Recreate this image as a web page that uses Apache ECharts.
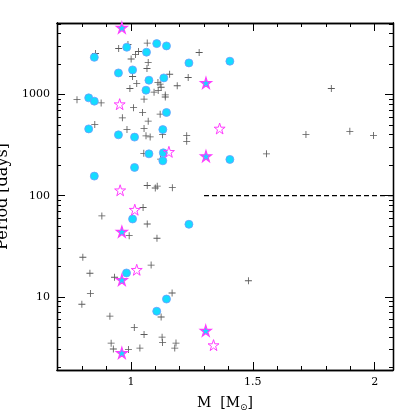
<!DOCTYPE html>
<html>
<head>
<meta charset="utf-8">
<script src="https://cdn.jsdelivr.net/npm/echarts@6/dist/echarts.min.js"></script>
<style>html,body{margin:0;padding:0;background:#fff}#c{width:415px;height:415px}</style>
</head>
<body>
<div id="c"></div>
<script>
// Mass [Msun] and Period [days]
const plusM = [0.988,0.950,1.067,1.031,1.019,0.855,1.001,1.071,1.066,1.007,1.024,1.159,1.111,1.120,1.124,1.190,0.996,1.095,1.112,1.141,1.141,0.779,0.878,1.054,1.011,1.048,1.120,0.965,1.071,0.852,1.054,0.984,1.062,1.079,1.130,1.229,1.229,1.280,1.235,1.053,1.122,1.067,1.108,1.100,1.170,1.050,0.881,1.067,0.993,1.107,0.803,0.832,1.083,0.933,0.834,1.169,0.799,0.914,1.124,1.014,1.054,1.128,1.130,0.919,1.185,0.928,0.990,1.037,1.180,1.822,1.718,1.898,1.995,1.556,1.482];
const plusP = [3120,2851,3221,2661,2488,2541,2245,2075,1807,1506,1287,1586,1316,1264,1180,1221,1146,1054,1098,991,945,889,826,899,741,665,639,588,545,506,462,450,390,381,401,392,344,2600,1472,262,230,126,124,119,120,76.4,63,52.5,40.2,37.9,24.6,17.1,20.6,15.6,10.8,10.9,8.45,6.44,6.31,4.96,4.24,3.99,3.53,3.48,3.49,3.05,3.01,3.11,3.11,1146,403,432,394,259,14.4];

const circleM = [0.850,0.983,1.064,1.106,1.146,0.949,1.007,1.074,1.135,1.062,0.827,0.850,1.146,0.827,1.131,1.238,1.406,0.949,1.015,1.074,1.133,1.131,1.406,1.015,0.850,1.007,1.238,0.982,1.146,1.106];
const circleP = [2330,2930,2620,3185,3020,1633,1750,1384,1459,1103,926,859,664,457,450,2051,2133,399,379,259,265,221,228,190,156,58.8,52.1,17.2,9.5,7.2];

const openStarM = [0.954,1.156,1.364,0.956,1.016,1.024,1.339];
const openStarP = [802,271,461,113,72.6,18.5,3.33];

const filledStarM = [0.963,1.308,1.308,0.963,0.963,0.963,1.307];
const filledStarP = [4580,1302,246,44,14.7,2.79,4.63];

const dashM = [1.3, 2.075];
const dashP = [100, 100];

const xMajorTicks = [1, 1.5, 2];
const xMinorTicks = [0.7,0.8,0.9,1.1,1.2,1.3,1.4,1.6,1.7,1.8,1.9];
const yMajorTicks = [10, 100, 1000];
const yMinorTicks = [2,3,4,5,6,7,8,9,20,30,40,50,60,70,80,90,200,300,400,500,600,700,800,900,2000,3000,4000,5000];

const X_MIN = 0.697, X_MAX = 2.075, Y_MIN = 1.89, Y_MAX = 5090;
const FONT = 'DejaVu Serif';

function pts(xs, ys) { const n = Math.min(xs.length, ys.length); const a = []; for (let i = 0; i < n; i++) a.push([xs[i], ys[i]]); return a; }

const STAR = 'path://M100,0L122.45,69.1L195.1,69.1L136.3,111.8L158.8,180.9L100,138.2L41.2,180.9L63.7,111.8L4.9,69.1L77.55,69.1Z';
const PLUS = 'path://M4.4,0H5.6V4.4H10V5.6H5.6V10H4.4V5.6H0V4.4H4.4Z';

function xAxis(pos, major, show) {
  return {
    type: 'value', position: pos, min: X_MIN, max: X_MAX,
    axisLine: { show: true, lineStyle: { color: 'black', width: 1.3 } },
    splitLine: { show: false },
    axisTick: { show: true, inside: true, length: major ? 8 : 4, customValues: (major ? xMajorTicks : xMinorTicks).slice(), lineStyle: { color: 'black', width: 1 } },
    axisLabel: show ? { show: true, customValues: xMajorTicks.slice(), margin: 7, color: 'black', fontFamily: FONT, fontSize: 11, formatter: v => String(v) } : { show: false },
    name: show ? '{a|M  [M}{b|⊙}{a|]}' : '',
    nameLocation: 'middle', nameGap: 25,
    nameTextStyle: { rich: { a: { fontFamily: FONT, fontSize: 14, color: 'black' }, b: { fontFamily: 'DejaVu Sans', fontSize: 9, color: 'black', verticalAlign: 'bottom', padding: [8, 0, 0, 0] } } }
  };
}
function yAxis(pos, major, show) {
  return {
    type: 'log', logBase: 10, position: pos, min: Y_MIN, max: Y_MAX,
    axisLine: { show: true, lineStyle: { color: 'black', width: 1.3 } },
    splitLine: { show: false },
    axisTick: { show: true, inside: true, length: major ? 8 : 4, customValues: (major ? yMajorTicks : yMinorTicks).slice(), lineStyle: { color: 'black', width: 1 } },
    axisLabel: show ? { show: true, customValues: yMajorTicks.slice(), margin: 7, color: 'black', fontFamily: FONT, fontSize: 11, formatter: v => String(Math.round(v)) } : { show: false },
    name: show ? 'Period [days]' : '',
    nameLocation: 'middle', nameGap: 30, nameRotate: 90,
    nameTextStyle: { fontFamily: FONT, fontSize: 16, color: 'black' }
  };
}

const chart = echarts.init(document.getElementById('c'));
chart.setOption({
  animation: false,
  grid: { left: 57, right: 22, top: 23, bottom: 45, outerBoundsMode: 'none' },
  xAxis: [xAxis('bottom', true, true), xAxis('bottom', false, false), xAxis('top', true, false), xAxis('top', false, false)],
  yAxis: [yAxis('left', true, true), yAxis('left', false, false), yAxis('right', true, false), yAxis('right', false, false)],
  series: [
    { type: 'line', data: pts(dashM, dashP), showSymbol: false,
      lineStyle: { color: 'black', width: 1.2, type: [5, 3] } },
    { type: 'scatter', data: pts(plusM, plusP), symbol: PLUS, symbolSize: 7,
      itemStyle: { color: '#5a5a5a', opacity: 1 } },
    { type: 'scatter', data: pts(circleM, circleP), symbol: 'circle', symbolSize: 8,
      itemStyle: { color: '#14dcff', borderColor: '#6f9cff', borderWidth: 0.8, opacity: 1 } },
    { type: 'scatter', data: pts(openStarM, openStarP), symbol: STAR, symbolSize: 11,
      itemStyle: { color: 'rgba(255,255,255,0)', borderColor: '#ff3cff', borderWidth: 1, opacity: 1 } },
    { type: 'scatter', data: pts(filledStarM, filledStarP), symbol: STAR, symbolSize: 11,
      itemStyle: { color: '#14dcff', borderColor: '#ff3cff', borderWidth: 1.2, opacity: 1 } }
  ]
});
</script>
</body>
</html>
